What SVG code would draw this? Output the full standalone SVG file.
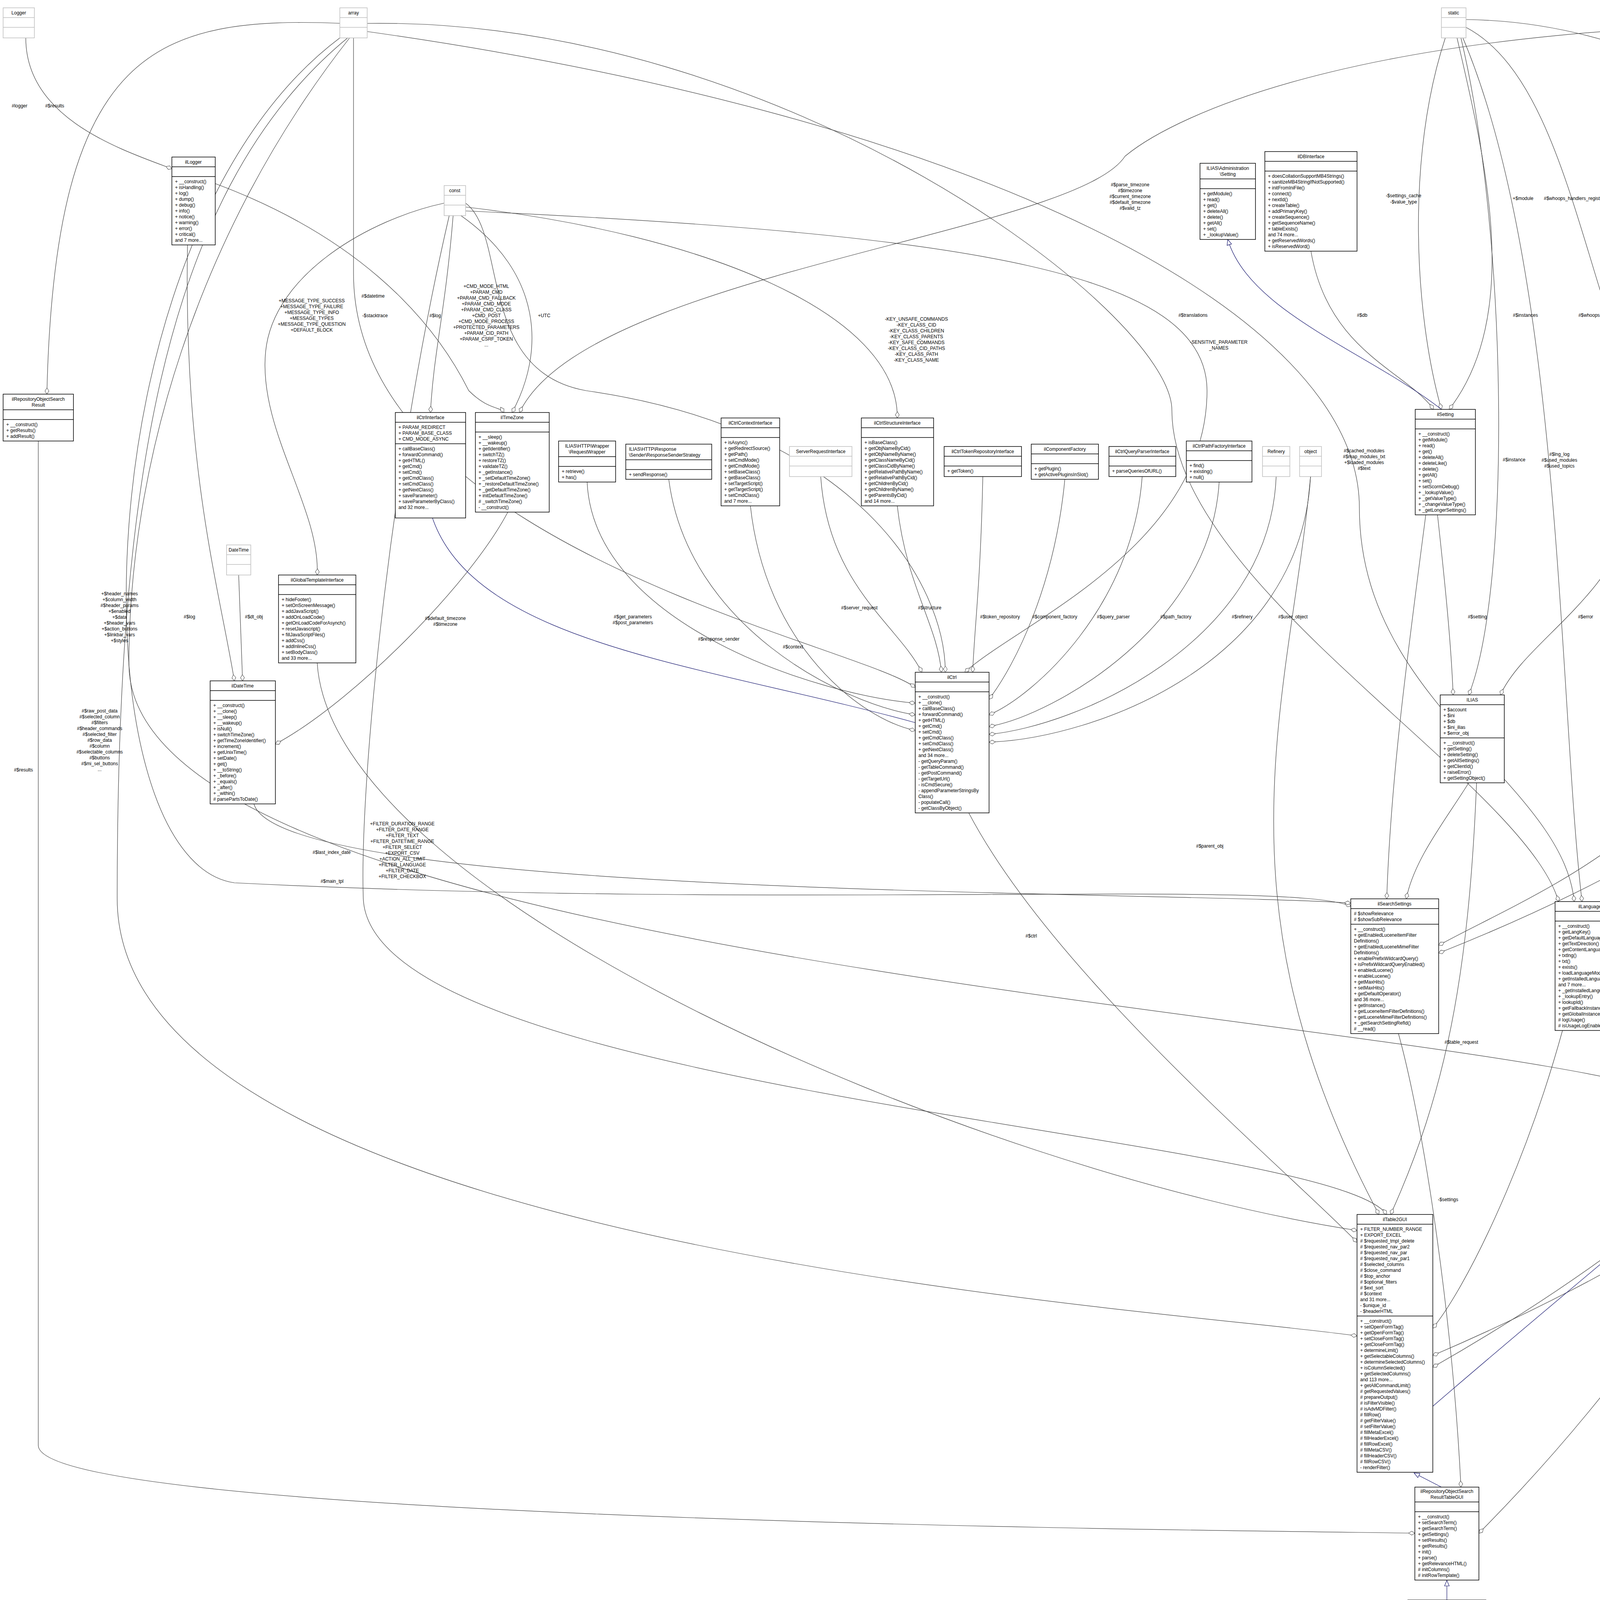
<svg xmlns="http://www.w3.org/2000/svg" width="6131" height="4192" viewBox="0 0 6131 4192">
<style>
text{font-family:"Liberation Sans",Arial,sans-serif;font-size:12px;fill:#000}
.c{text-anchor:middle}
.b{fill:#fff;stroke:#000;stroke-width:1.5}
.g{fill:#fff;stroke:#bfbfbf;stroke-width:1.5}
.s{fill:none;stroke:#000;stroke-width:1.5}
.sg{fill:none;stroke:#bfbfbf;stroke-width:1.5}
.e{fill:none;stroke:#404040;stroke-width:1.2;marker-end:url(#dia)}
.i{fill:none;stroke:#191970;stroke-width:1.2;marker-end:url(#tri)}
</style>
<defs>
<marker id="dia" markerUnits="userSpaceOnUse" markerWidth="18" markerHeight="12" refX="17" refY="6" orient="auto"><path d="M1,6 L9,1 L17,6 L9,11 z" fill="#fff" stroke="#404040" stroke-width="1"/></marker>
<marker id="tri" markerUnits="userSpaceOnUse" markerWidth="16" markerHeight="14" refX="15" refY="7" orient="auto"><path d="M1,1 L15,7 L1,13 z" fill="#fff" stroke="#191970" stroke-width="1.2"/></marker>
</defs>
<rect width="6131" height="4192" fill="#fff"/>
<g id="connectors">
<path class="e" d="M66,97 C66,300 300,380 440,432"/>
<path class="e" d="M880,60 C400,40 140,120 120,1009"/>
<path class="e" d="M890,97 C400,500 300,1300 300,2300 C300,3200 3000,3350 3474,3420"/>
<path class="e" d="M895,97 C500,600 330,1200 330,1700 C330,2500 4000,2600 4380,2840"/>
<path class="e" d="M870,97 C200,600 190,2200 600,2260 C2000,2330 3300,2250 3458,2320"/>
<path class="e" d="M905,97 L905,700 C905,1400 2200,1650 2343,1760"/>
<path class="e" d="M930,60 C2000,40 3000,800 3000,1050 C3000,1500 3900,2000 3990,2308"/>
<path class="e" d="M935,80 C2500,300 3480,800 3480,1300 C3480,1800 4000,2000 4030,2308"/>
<path class="e" d="M1160,552 C1140,800 1110,900 1102,1056"/>
<path class="e" d="M1180,552 C1390,700 1395,900 1311,1056"/>
<path class="e" d="M1137,520 C950,560 700,700 680,900 C660,1100 820,1300 812,1472"/>
<path class="e" d="M1192,520 C1300,600 1220,950 1500,1000 C2200,1100 2420,1500 2420,1721"/>
<path class="e" d="M1192,530 C1800,600 2300,800 2297,1070"/>
<path class="e" d="M1150,552 C1000,1200 920,2000 930,2300 C950,2800 3400,2900 3550,3109"/>
<path class="e" d="M1192,540 C2500,600 3090,700 3090,1000 C3090,1400 2600,1600 2470,1721"/>
<path class="e" d="M480,627 C470,1200 560,1500 600,1743"/>
<path class="e" d="M551,470 C900,600 1100,800 1200,1000 C1250,1050 1280,1040 1290,1056"/>
<path class="e" d="M611,1472 L621,1743"/>
<path class="e" d="M1300,1311 C1200,1500 900,1800 705,1905"/>
<path class="e" d="M4850,60 C3500,40 3000,300 2880,400 C2750,600 1500,700 1330,1056"/>
<path class="e" d="M1503,1234 C1520,1600 2100,1780 2343,1800"/>
<path class="e" d="M1712,1227 C1760,1600 2150,1800 2343,1830"/>
<path class="e" d="M1921,1295 C1960,1650 2200,1840 2343,1870"/>
<path class="e" d="M2101,1220 C2120,1500 2300,1600 2360,1721"/>
<path class="e" d="M2297,1295 C2320,1500 2400,1600 2410,1721"/>
<path class="e" d="M2516,1220 C2510,1500 2495,1600 2490,1721"/>
<path class="e" d="M2726,1227 C2700,1500 2600,1700 2532,1790"/>
<path class="e" d="M2924,1220 C2900,1550 2650,1780 2532,1830"/>
<path class="e" d="M3121,1234 C3100,1600 2700,1830 2532,1860"/>
<path class="e" d="M3267,1220 C3250,1650 2750,1860 2532,1880"/>
<path class="e" d="M3355,1220 C3330,1700 2800,1890 2532,1900"/>
<path class="i" d="M2343,1850 C1800,1700 1200,1650 1102,1310"/>
<path class="e" d="M2480,2081 C2700,2500 3300,3000 3474,3180"/>
<path class="e" d="M812,1697 C850,2300 2500,3000 3474,3150"/>
<path class="e" d="M650,2058 C720,2300 3000,2280 3458,2312"/>
<path class="e" d="M3680,1318 C3700,1500 3715,1650 3720,1779"/>
<path class="e" d="M3650,1318 C3600,1700 3560,2000 3550,2301"/>
<path class="e" d="M4180,1333 C4100,1550 3900,1650 3841,1779"/>
<path class="e" d="M3760,2004 C3700,2100 3620,2200 3600,2301"/>
<path class="e" d="M3730,97 C3800,400 3900,800 3710,1048"/>
<path class="e" d="M3700,97 C3600,400 3620,800 3690,1048"/>
<path class="e" d="M3753,70 C4000,200 4050,700 4200,1033"/>
<path class="e" d="M3740,97 C3860,600 3870,1500 3760,1779"/>
<path class="e" d="M3745,97 C4000,700 3990,1800 4050,2308"/>
<path class="e" d="M3356,643 C3400,900 3600,950 3670,1048"/>
<path class="i" d="M3690,1048 C3500,900 3200,800 3143,613"/>
<path class="e" d="M4191,553 C4150,800 4220,900 4240,1033"/>
<path class="i" d="M4160,1033 C4120,800 4200,760 4262,690"/>
<path class="i" d="M4175,1033 C4140,820 4210,770 4262,705"/>
<path class="e" d="M4721,553 C4500,700 4350,800 4300,1033"/>
<path class="e" d="M4860,97 C4600,300 4450,600 4280,1033"/>
<path class="e" d="M4900,97 C4900,250 5100,300 5180,410"/>
<path class="e" d="M5745,97 C5600,200 5300,250 5240,410"/>
<path class="e" d="M4740,477 C4800,300 5000,350 5160,410"/>
<path class="i" d="M5216,410 L5225,310"/>
<path class="e" d="M5216,740 C5200,800 5150,850 5128,919"/>
<path class="e" d="M3753,50 C4500,60 5000,700 5040,919"/>
<path class="e" d="M4910,97 C5300,300 5450,700 5232,1000"/>
<path class="e" d="M5745,97 C5700,500 5400,900 5232,1050"/>
<path class="e" d="M5100,1444 C5000,1500 4850,1560 4770,1600"/>
<path class="e" d="M4668,1785 C4600,2000 4300,2200 4160,2330"/>
<path class="e" d="M4900,97 C4700,500 4540,900 4520,1300 C4500,1800 4200,2100 4110,2308"/>
<path class="e" d="M4870,97 C4500,800 4400,1300 4410,1700 C4420,2100 3900,2300 3683,2420"/>
<path class="e" d="M4740,553 C4720,1200 4700,1900 4160,2450"/>
<path class="e" d="M4160,2520 C4250,2650 4330,2780 4380,2840"/>
<path class="e" d="M4000,2638 C3900,3000 3750,3300 3668,3400"/>
<path class="e" d="M3580,2646 C3650,2900 3720,3400 3740,3807"/>
<path class="e" d="M3780,2004 C3760,2500 3700,2800 3560,3109"/>
<path class="e" d="M5760,97 C5800,1000 5700,2200 4532,2880"/>
<path class="e" d="M5770,97 C5800,1200 5700,2600 3668,3470"/>
<path class="e" d="M5750,97 C5500,800 5300,1800 3683,2440"/>
<path class="e" d="M4745,553 C4800,1200 5000,2300 4532,2860"/>
<path class="e" d="M4751,520 C5500,900 5600,2400 3668,3500"/>
<path class="e" d="M4900,97 C5200,600 5200,2500 3786,3925"/>
<path class="e" d="M3355,1220 C3300,1800 3100,2300 3530,3109"/>
<path class="e" d="M98,1129 L98,3700 C98,3900 3400,3920 3622,3925"/>
<path class="i" d="M3704,4096 L3704,4046"/>
<path class="i" d="M3690,3807 L3620,3771"/>
<path class="i" d="M3668,3600 C3900,3400 4200,3150 4380,3000"/>
</g>
<g id="labels">
<text x="50" y="275" class="c">#logger</text>
<text x="140" y="275" class="c">#$results</text>
<text x="60" y="1975" class="c">#$results</text>
<text class="c" y="1524"><tspan x="306">+$header_names</tspan><tspan x="306" dy="15">+$column_width</tspan><tspan x="306" dy="15">#$header_params</tspan><tspan x="306" dy="15">+$enabled</tspan><tspan x="306" dy="15">+$data</tspan><tspan x="306" dy="15">+$header_vars</tspan><tspan x="306" dy="15">+$action_buttons</tspan><tspan x="306" dy="15">+$linkbar_vars</tspan><tspan x="306" dy="15">+$styles</tspan></text>
<text class="c" y="1824"><tspan x="255">#$raw_post_data</tspan><tspan x="255" dy="15">#$selected_column</tspan><tspan x="255" dy="15">#$filters</tspan><tspan x="255" dy="15">#$header_commands</tspan><tspan x="255" dy="15">#$selected_filter</tspan><tspan x="255" dy="15">#$row_data</tspan><tspan x="255" dy="15">#$column</tspan><tspan x="255" dy="15">#$selectable_columns</tspan><tspan x="255" dy="15">#$buttons</tspan><tspan x="255" dy="15">#$mi_sel_buttons</tspan><tspan x="255" dy="15">...</tspan></text>
<text x="485" y="1583" class="c">#$log</text>
<text x="650" y="1583" class="c">#$dt_obj</text>
<text x="849" y="2186" class="c">#$last_index_date</text>
<text x="850" y="2260" class="c">#$main_tpl</text>
<text class="c" y="2113"><tspan x="1030">+FILTER_DURATION_RANGE</tspan><tspan x="1030" dy="15">+FILTER_DATE_RANGE</tspan><tspan x="1030" dy="15">+FILTER_TEXT</tspan><tspan x="1030" dy="15">+FILTER_DATETIME_RANGE</tspan><tspan x="1030" dy="15">+FILTER_SELECT</tspan><tspan x="1030" dy="15">+EXPORT_CSV</tspan><tspan x="1030" dy="15">+ACTION_ALL_LIMIT</tspan><tspan x="1030" dy="15">+FILTER_LANGUAGE</tspan><tspan x="1030" dy="15">+FILTER_DATE</tspan><tspan x="1030" dy="15">+FILTER_CHECKBOX</tspan></text>
<text class="c" y="774"><tspan x="798">+MESSAGE_TYPE_SUCCESS</tspan><tspan x="798" dy="15">+MESSAGE_TYPE_FAILURE</tspan><tspan x="798" dy="15">+MESSAGE_TYPE_INFO</tspan><tspan x="798" dy="15">+MESSAGE_TYPES</tspan><tspan x="798" dy="15">+MESSAGE_TYPE_QUESTION</tspan><tspan x="798" dy="15">+DEFAULT_BLOCK</tspan></text>
<text x="960" y="812" class="c">-$stacktrace</text>
<text x="1114" y="812" class="c">#$log</text>
<text class="c" y="737"><tspan x="1245">+CMD_MODE_HTML</tspan><tspan x="1245" dy="15">+PARAM_CMD</tspan><tspan x="1245" dy="15">+PARAM_CMD_FALLBACK</tspan><tspan x="1245" dy="15">+PARAM_CMD_MODE</tspan><tspan x="1245" dy="15">+PARAM_CMD_CLASS</tspan><tspan x="1245" dy="15">+CMD_POST</tspan><tspan x="1245" dy="15">+CMD_MODE_PROCESS</tspan><tspan x="1245" dy="15">+PROTECTED_PARAMETERS</tspan><tspan x="1245" dy="15">+PARAM_CID_PATH</tspan><tspan x="1245" dy="15">+PARAM_CSRF_TOKEN</tspan><tspan x="1245" dy="15">...</tspan></text>
<text x="1393" y="812" class="c">+UTC</text>
<text x="955" y="762" class="c">#$datetime</text>
<text class="c" y="1587"><tspan x="1140">#$default_timezone</tspan><tspan x="1140" dy="15">#$timezone</tspan></text>
<text class="c" y="477"><tspan x="2893">#$parse_timezone</tspan><tspan x="2893" dy="15">#$timezone</tspan><tspan x="2893" dy="15">#$current_timezone</tspan><tspan x="2893" dy="15">#$default_timezone</tspan><tspan x="2893" dy="15">#$valid_tz</tspan></text>
<text class="c" y="821"><tspan x="2346">-KEY_UNSAFE_COMMANDS</tspan><tspan x="2346" dy="15">-KEY_CLASS_CID</tspan><tspan x="2346" dy="15">-KEY_CLASS_CHILDREN</tspan><tspan x="2346" dy="15">-KEY_CLASS_PARENTS</tspan><tspan x="2346" dy="15">-KEY_SAFE_COMMANDS</tspan><tspan x="2346" dy="15">-KEY_CLASS_CID_PATHS</tspan><tspan x="2346" dy="15">-KEY_CLASS_PATH</tspan><tspan x="2346" dy="15">-KEY_CLASS_NAME</tspan></text>
<text class="c" y="880"><tspan x="3120">-SENSITIVE_PARAMETER</tspan><tspan x="3120" dy="15">_NAMES</tspan></text>
<text class="c" y="1583"><tspan x="1620">#$get_parameters</tspan><tspan x="1620" dy="15">#$post_parameters</tspan></text>
<text x="1840" y="1640" class="c">#$response_sender</text>
<text x="2030" y="1660" class="c">#$context</text>
<text x="2200" y="1560" class="c">#$server_request</text>
<text x="2380" y="1560" class="c">#$structure</text>
<text x="2560" y="1583" class="c">#$token_repository</text>
<text x="2700" y="1583" class="c">#$component_factory</text>
<text x="2850" y="1583" class="c">#$query_parser</text>
<text x="3010" y="1583" class="c">#$path_factory</text>
<text x="3180" y="1583" class="c">#$refinery</text>
<text x="3310" y="1583" class="c">#$user_object</text>
<text x="2640" y="2400" class="c">#$ctrl</text>
<text x="3097" y="2170" class="c">#$parent_obj</text>
<text class="c" y="505"><tspan x="3593">-$settings_cache</tspan><tspan x="3593" dy="16">-$value_type</tspan></text>
<text x="3899" y="512" class="c">+$module</text>
<text x="4036" y="512" class="c">#$whoops_handlers_registered</text>
<text x="3054" y="811" class="c">#$translations</text>
<text x="3487" y="811" class="c">#$db</text>
<text x="3905" y="811" class="c">#$instances</text>
<text x="4068" y="811" class="c">#$whoops</text>
<text x="4290" y="811" class="c">#$cache_disabled</text>
<text class="c" y="1158"><tspan x="3492">#$cached_modules</tspan><tspan x="3492" dy="15">#$map_modules_txt</tspan><tspan x="3492" dy="15">+$loaded_modules</tspan><tspan x="3492" dy="15">#$text</tspan></text>
<text x="3876" y="1181" class="c">#$instance</text>
<text class="c" y="1167"><tspan x="3992">#$lng_log</tspan><tspan x="3992" dy="15">#$used_modules</tspan><tspan x="3992" dy="15">#$used_topics</tspan></text>
<text x="3782" y="1583" class="c">#$setting</text>
<text x="4059" y="1583" class="c">#$error</text>
<text class="c" y="1488"><tspan x="4411">#$show_limited_user</tspan><tspan x="4411" dy="15">#$lucene_mime_filter</tspan><tspan x="4411" dy="15">_enabled</tspan><tspan x="4411" dy="15">#$date_filter</tspan><tspan x="4411" dy="15">#$user_search</tspan><tspan x="4411" dy="15">#$show_inactiv_user</tspan><tspan x="4411" dy="15">#$lucene</tspan><tspan x="4411" dy="15">#$lucene_offline</tspan><tspan x="4411" dy="15">_filter</tspan><tspan x="4411" dy="15">#$prefix_wildcard</tspan><tspan x="4411" dy="15">#$hide_adv_search</tspan><tspan x="4411" dy="15">#$lucene_item_filter</tspan><tspan x="4411" dy="15">_enabled</tspan><tspan x="4411" dy="15">...</tspan></text>
<text class="c" y="1115"><tspan x="4548">+$lang_name</tspan><tspan x="4548" dy="15">+$lang_user</tspan><tspan x="4548" dy="15">+$lang_path</tspan><tspan x="4548" dy="15">#$cust_lang_path</tspan><tspan x="4548" dy="15">+$separator</tspan><tspan x="4548" dy="15">+$comment_separator</tspan><tspan x="4548" dy="15">+$lang_key</tspan><tspan x="4548" dy="15">+$lang_default</tspan></text>
<text x="3741" y="2672" class="c">#$table_request</text>
<text x="3707" y="3075" class="c">-$settings</text>
<text x="4282" y="2671" class="c">#$lng</text>
<text x="4704" y="1622" class="c">#$usage_log_enabled</text>
<text x="4888" y="1583" class="c">#$global_cache</text>
<text x="5061" y="810" class="c">#$active</text>
<text x="5232" y="810" class="c">#$global_cache</text>
<text x="5377" y="810" class="c">#$language_key</text>
<text class="c" y="500"><tspan x="4958">#$type</tspan><tspan x="4958" dy="15">#$unique_service</tspan><tspan x="4958" dy="15">#$active_components</tspan><tspan x="4958" dy="15">#$available_components</tspan><tspan x="4958" dy="15">#$settings</tspan><tspan x="4958" dy="15">#$instances</tspan><tspan x="4958" dy="15">#$available_types</tspan><tspan x="4958" dy="15">#$active_cache</tspan></text>
<text x="4516" y="371" class="c">#$message</text>
<text x="4672" y="371" class="c">#$component</text>
<text class="c" y="262"><tspan x="5180">#$component</tspan><tspan x="5180" dy="15">#$valid_key_hash</tspan><tspan x="5180" dy="15">#$service_id</tspan></text>
<text class="c" y="180"><tspan x="5200">#$current_time</tspan><tspan x="5200" dy="15">#$service_type</tspan></text>
<text class="c" y="275"><tspan x="4935">#$active</tspan><tspan x="4935" dy="15">#$installable</tspan></text>
<text x="5454" y="371" class="c">#$service_type</text>
<text class="c" y="480"><tspan x="5349">+$MESSAGE</tspan><tspan x="5349" dy="15">+$FATAL</tspan><tspan x="5349" dy="15">+$WARNING</tspan></text>
<text class="c" y="712"><tspan x="4325">+ENV_FILE</tspan><tspan x="4325" dy="15">+$client_id</tspan></text>
<text x="4352" y="802" class="c">#$DEBUG_ENV</text>
<text class="c" y="625"><tspan x="4810">+COMP_PLUGINS</tspan><tspan x="4810" dy="15">+COMP_ILCTRL</tspan><tspan x="4810" dy="15">+TYPE_APC</tspan><tspan x="4810" dy="15">+COMP_OBJ_DEF</tspan><tspan x="4810" dy="15">+TYPE_STATIC</tspan><tspan x="4810" dy="15">+COMP_GLOBAL_SCREEN</tspan><tspan x="4810" dy="15">+COMP_TEMPLATE</tspan><tspan x="4810" dy="15">+ACTIVE</tspan><tspan x="4810" dy="15">+MSG</tspan><tspan x="4810" dy="15">+COMP_TPL_VARIABLES</tspan></text>
<text class="c" y="1173"><tspan x="5376">#$auto_complete_length</tspan><tspan x="5376" dy="15">#$max_hits</tspan><tspan x="5376" dy="15">#$hide_adv_search</tspan><tspan x="5376" dy="15">#$default_operator</tspan><tspan x="5376" dy="15">#$fragmentSize</tspan><tspan x="5376" dy="15">#$fragmentCount</tspan></text>
<text class="c" y="1623"><tspan x="5787">#$offset</tspan><tspan x="5787" dy="15">#$column_count</tspan><tspan x="5787" dy="15">#$limit</tspan><tspan x="5787" dy="15">#$max_count</tspan></text>
<text class="c" y="2033"><tspan x="5787">#$filter_cols</tspan><tspan x="5787" dy="15">#$export_mode</tspan></text>
<text class="c" y="1700"><tspan x="4926">#$help_icon_alt</tspan><tspan x="4926" dy="15">#$footer_next</tspan><tspan x="4926" dy="15">#$select_all_checkbox</tspan><tspan x="4926" dy="15">#$form_action</tspan><tspan x="4926" dy="15">#$help_page</tspan><tspan x="4926" dy="15">#$help_icon</tspan></text>
<text class="c" y="1720"><tspan x="5572">#$description</tspan><tspan x="5572" dy="15">#$reset_cmd</tspan><tspan x="5572" dy="15">#$filter_cmd</tspan><tspan x="5572" dy="15">#$css_row</tspan><tspan x="5572" dy="15">#$row_template</tspan><tspan x="5572" dy="15">...</tspan></text>
<text x="5083" y="2190" class="c">#$search_term</text>
</g>
<g id="Logger"><rect class="g" x="8" y="20" width="80" height="77"/><path class="sg" d="M8,45h80M8,70h80"/><text class="c" x="48" y="37">Logger</text></g>
<g id="array"><rect class="g" x="870" y="20" width="70" height="77"/><path class="sg" d="M870,45h70M870,70h70"/><text class="c" x="905" y="37">array</text></g>
<g id="static"><rect class="g" x="3690" y="20" width="63" height="77"/><path class="sg" d="M3690,45h63M3690,70h63"/><text class="c" x="3721" y="37">static</text></g>
<g id="string"><rect class="g" x="4850" y="20" width="70" height="77"/><path class="sg" d="M4850,45h70M4850,70h70"/><text class="c" x="4885" y="37">string</text></g>
<g id="int"><rect class="g" x="5720" y="20" width="50" height="77"/><path class="sg" d="M5720,45h50M5720,70h50"/><text class="c" x="5745" y="37">int</text></g>
<g id="bool"><rect class="g" x="4692" y="477" width="59" height="77"/><path class="sg" d="M4692,502h59M4692,527h59"/><text class="c" x="4721" y="494">bool</text></g>
<g id="const"><rect class="g" x="1137" y="475" width="55" height="77"/><path class="sg" d="M1137,500h55M1137,525h55"/><text class="c" x="1164" y="492">const</text></g>
<g id="DateTime"><rect class="g" x="580" y="1395" width="62" height="77"/><path class="sg" d="M580,1420h62M580,1445h62"/><text class="c" x="611" y="1412">DateTime</text></g>
<g id="RunInterface"><rect class="g" x="4142" y="476" width="99" height="77"/><path class="sg" d="M4142,501h99M4142,526h99"/><text class="c" x="4191" y="493">RunInterface</text></g>
<g id="ServerRequestInterface"><rect class="g" x="2021" y="1143" width="160" height="77"/><path class="sg" d="M2021,1168h160M2021,1193h160"/><text class="c" x="2101" y="1160">ServerRequestInterface</text></g>
<g id="Refinery"><rect class="g" x="3232" y="1143" width="70" height="77"/><path class="sg" d="M3232,1168h70M3232,1193h70"/><text class="c" x="3267" y="1160">Refinery</text></g>
<g id="object"><rect class="g" x="3327" y="1143" width="56" height="77"/><path class="sg" d="M3327,1168h56M3327,1193h56"/><text class="c" x="3355" y="1160">object</text></g>
<g id="ilRepositoryObjectSearchResult"><rect class="b" x="8" y="1009" width="180" height="120"/><path class="s" d="M8,1049h180M8,1074h180"/><text class="c" x="98" y="1026">ilRepositoryObjectSearch</text><text class="c" x="98" y="1041">Result</text><text x="16" y="1091"><tspan x="16">+ __construct()</tspan><tspan x="16" dy="15">+ getResults()</tspan><tspan x="16" dy="15">+ addResult()</tspan></text></g>
<g id="ilLogger"><rect class="b" x="440" y="402" width="111" height="225"/><path class="s" d="M440,427h111M440,452h111"/><text class="c" x="495" y="419">ilLogger</text><text y="469"><tspan x="448">+ __construct()</tspan><tspan x="448" dy="15">+ isHandling()</tspan><tspan x="448" dy="15">+ log()</tspan><tspan x="448" dy="15">+ dump()</tspan><tspan x="448" dy="15">+ debug()</tspan><tspan x="448" dy="15">+ info()</tspan><tspan x="448" dy="15">+ notice()</tspan><tspan x="448" dy="15">+ warning()</tspan><tspan x="448" dy="15">+ error()</tspan><tspan x="448" dy="15">+ critical()</tspan><tspan x="448" dy="15">and 7 more...</tspan></text></g>
<g id="ilCtrlInterface"><rect class="b" x="1012" y="1056" width="180" height="270"/><path class="s" d="M1012,1081h180M1012,1136h180"/><text class="c" x="1102" y="1073">ilCtrlInterface</text><text y="1098"><tspan x="1020">+ PARAM_REDIRECT</tspan><tspan x="1020" dy="15">+ PARAM_BASE_CLASS</tspan><tspan x="1020" dy="15">+ CMD_MODE_ASYNC</tspan></text><text y="1153"><tspan x="1020">+ callBaseClass()</tspan><tspan x="1020" dy="15">+ forwardCommand()</tspan><tspan x="1020" dy="15">+ getHTML()</tspan><tspan x="1020" dy="15">+ getCmd()</tspan><tspan x="1020" dy="15">+ setCmd()</tspan><tspan x="1020" dy="15">+ getCmdClass()</tspan><tspan x="1020" dy="15">+ setCmdClass()</tspan><tspan x="1020" dy="15">+ getNextClass()</tspan><tspan x="1020" dy="15">+ saveParameter()</tspan><tspan x="1020" dy="15">+ saveParameterByClass()</tspan><tspan x="1020" dy="15">and 32 more...</tspan></text></g>
<g id="ilTimeZone"><rect class="b" x="1217" y="1056" width="189" height="255"/><path class="s" d="M1217,1081h189M1217,1106h189"/><text class="c" x="1311" y="1073">ilTimeZone</text><text y="1123"><tspan x="1225">+ __sleep()</tspan><tspan x="1225" dy="15">+ __wakeup()</tspan><tspan x="1225" dy="15">+ getIdentifier()</tspan><tspan x="1225" dy="15">+ switchTZ()</tspan><tspan x="1225" dy="15">+ restoreTZ()</tspan><tspan x="1225" dy="15">+ validateTZ()</tspan><tspan x="1225" dy="15">+ _getInstance()</tspan><tspan x="1225" dy="15">+ _setDefaultTimeZone()</tspan><tspan x="1225" dy="15">+ _restoreDefaultTimeZone()</tspan><tspan x="1225" dy="15">+ _getDefaultTimeZone()</tspan><tspan x="1225" dy="15">+ initDefaultTimeZone()</tspan><tspan x="1225" dy="15"># _switchTimeZone()</tspan><tspan x="1225" dy="15">- __construct()</tspan></text></g>
<g id="RequestWrapper"><rect class="b" x="1430" y="1129" width="146" height="105"/><path class="s" d="M1430,1169h146M1430,1194h146"/><text class="c" x="1503" y="1146">ILIAS\HTTP\Wrapper</text><text class="c" x="1503" y="1161">\RequestWrapper</text><text y="1211"><tspan x="1438">+ retrieve()</tspan><tspan x="1438" dy="15">+ has()</tspan></text></g>
<g id="ResponseSenderStrategy"><rect class="b" x="1602" y="1137" width="220" height="90"/><path class="s" d="M1602,1177h220M1602,1202h220"/><text x="1610" y="1154">ILIAS\HTTP\Response</text><text x="1610" y="1169">\Sender\ResponseSenderStrategy</text><text x="1610" y="1219">+ sendResponse()</text></g>
<g id="ilCtrlContextInterface"><rect class="b" x="1846" y="1070" width="150" height="225"/><path class="s" d="M1846,1095h150M1846,1120h150"/><text class="c" x="1921" y="1087">ilCtrlContextInterface</text><text y="1137"><tspan x="1854">+ isAsync()</tspan><tspan x="1854" dy="15">+ getRedirectSource()</tspan><tspan x="1854" dy="15">+ getPath()</tspan><tspan x="1854" dy="15">+ setCmdMode()</tspan><tspan x="1854" dy="15">+ getCmdMode()</tspan><tspan x="1854" dy="15">+ setBaseClass()</tspan><tspan x="1854" dy="15">+ getBaseClass()</tspan><tspan x="1854" dy="15">+ setTargetScript()</tspan><tspan x="1854" dy="15">+ getTargetScript()</tspan><tspan x="1854" dy="15">+ setCmdClass()</tspan><tspan x="1854" dy="15">and 7 more...</tspan></text></g>
<g id="ilCtrlStructureInterface"><rect class="b" x="2205" y="1070" width="185" height="225"/><path class="s" d="M2205,1095h185M2205,1120h185"/><text class="c" x="2297" y="1087">ilCtrlStructureInterface</text><text y="1137"><tspan x="2213">+ isBaseClass()</tspan><tspan x="2213" dy="15">+ getObjNameByCid()</tspan><tspan x="2213" dy="15">+ getObjNameByName()</tspan><tspan x="2213" dy="15">+ getClassNameByCid()</tspan><tspan x="2213" dy="15">+ getClassCidByName()</tspan><tspan x="2213" dy="15">+ getRelativePathByName()</tspan><tspan x="2213" dy="15">+ getRelativePathByCid()</tspan><tspan x="2213" dy="15">+ getChildrenByCid()</tspan><tspan x="2213" dy="15">+ getChildrenByName()</tspan><tspan x="2213" dy="15">+ getParentsByCid()</tspan><tspan x="2213" dy="15">and 14 more...</tspan></text></g>
<g id="ilCtrlTokenRepositoryInterface"><rect class="b" x="2417" y="1143" width="198" height="77"/><path class="s" d="M2417,1168h198M2417,1193h198"/><text class="c" x="2516" y="1160">ilCtrlTokenRepositoryInterface</text><text x="2425" y="1210">+ getToken()</text></g>
<g id="ilComponentFactory"><rect class="b" x="2640" y="1137" width="172" height="90"/><path class="s" d="M2640,1162h172M2640,1187h172"/><text class="c" x="2726" y="1154">ilComponentFactory</text><text y="1204"><tspan x="2648">+ getPlugin()</tspan><tspan x="2648" dy="15">+ getActivePluginsInSlot()</tspan></text></g>
<g id="ilCtrlQueryParserInterface"><rect class="b" x="2839" y="1143" width="171" height="77"/><path class="s" d="M2839,1168h171M2839,1193h171"/><text class="c" x="2924" y="1160">ilCtrlQueryParserInterface</text><text x="2847" y="1210">+ parseQueriesOfURL()</text></g>
<g id="ilCtrlPathFactoryInterface"><rect class="b" x="3037" y="1129" width="168" height="105"/><path class="s" d="M3037,1154h168M3037,1179h168"/><text class="c" x="3121" y="1146">ilCtrlPathFactoryInterface</text><text y="1196"><tspan x="3045">+ find()</tspan><tspan x="3045" dy="15">+ existing()</tspan><tspan x="3045" dy="15">+ null()</tspan></text></g>
<g id="AdministrationSetting"><rect class="b" x="3072" y="418" width="142" height="195"/><path class="s" d="M3072,458h142M3072,483h142"/><text class="c" x="3143" y="435">ILIAS\Administration</text><text class="c" x="3143" y="450">\Setting</text><text y="500"><tspan x="3080">+ getModule()</tspan><tspan x="3080" dy="15">+ read()</tspan><tspan x="3080" dy="15">+ get()</tspan><tspan x="3080" dy="15">+ deleteAll()</tspan><tspan x="3080" dy="15">+ delete()</tspan><tspan x="3080" dy="15">+ getAll()</tspan><tspan x="3080" dy="15">+ set()</tspan><tspan x="3080" dy="15">+ _lookupValue()</tspan></text></g>
<g id="ilDBInterface"><rect class="b" x="3238" y="388" width="236" height="255"/><path class="s" d="M3238,413h236M3238,438h236"/><text class="c" x="3356" y="405">ilDBInterface</text><text y="455"><tspan x="3246">+ doesCollationSupportMB4Strings()</tspan><tspan x="3246" dy="15">+ sanitizeMB4StringIfNotSupported()</tspan><tspan x="3246" dy="15">+ initFromIniFile()</tspan><tspan x="3246" dy="15">+ connect()</tspan><tspan x="3246" dy="15">+ nextId()</tspan><tspan x="3246" dy="15">+ createTable()</tspan><tspan x="3246" dy="15">+ addPrimaryKey()</tspan><tspan x="3246" dy="15">+ createSequence()</tspan><tspan x="3246" dy="15">+ getSequenceName()</tspan><tspan x="3246" dy="15">+ tableExists()</tspan><tspan x="3246" dy="15">and 74 more...</tspan><tspan x="3246" dy="15">+ getReservedWords()</tspan><tspan x="3246" dy="15">+ isReservedWord()</tspan></text></g>
<g id="PEAR"><rect class="b" x="4262" y="313" width="195" height="390"/><path class="s" d="M4262,338h195M4262,438h195"/><text class="c" x="4359" y="330">PEAR</text><text y="355"><tspan x="4270">+ $_debug</tspan><tspan x="4270" dy="15">+ $_default_error_mode</tspan><tspan x="4270" dy="15">+ $_default_error_options</tspan><tspan x="4270" dy="15">+ $_default_error_handler</tspan><tspan x="4270" dy="15">+ $_error_class</tspan><tspan x="4270" dy="15">+ $_expected_errors</tspan></text><text y="455"><tspan x="4270">+ __construct()</tspan><tspan x="4270" dy="15">+ _PEAR()</tspan><tspan x="4270" dy="15">+ registerShutdownFunc()</tspan><tspan x="4270" dy="15">+ isError()</tspan><tspan x="4270" dy="15">+ expectError()</tspan><tspan x="4270" dy="15">+ popExpect()</tspan><tspan x="4270" dy="15">+ _checkDelExpect()</tspan><tspan x="4270" dy="15">+ delExpect()</tspan><tspan x="4270" dy="15">+ raiseError()</tspan><tspan x="4270" dy="15">+ throwError()</tspan><tspan x="4270" dy="15">+ staticPushErrorHandling()</tspan><tspan x="4270" dy="15">+ staticPopErrorHandling()</tspan><tspan x="4270" dy="15">+ pushErrorHandling()</tspan><tspan x="4270" dy="15">+ popErrorHandling()</tspan><tspan x="4270" dy="15">+ loadExtension()</tspan><tspan x="4270" dy="15">+ getStaticProperty()</tspan><tspan x="4270" dy="15">+ setErrorHandling()</tspan></text></g>
<g id="ilSetting"><rect class="b" x="3623" y="1048" width="154" height="270"/><path class="s" d="M3623,1073h154M3623,1098h154"/><text class="c" x="3700" y="1065">ilSetting</text><text y="1115"><tspan x="3631">+ __construct()</tspan><tspan x="3631" dy="15">+ getModule()</tspan><tspan x="3631" dy="15">+ read()</tspan><tspan x="3631" dy="15">+ get()</tspan><tspan x="3631" dy="15">+ deleteAll()</tspan><tspan x="3631" dy="15">+ deleteLike()</tspan><tspan x="3631" dy="15">+ delete()</tspan><tspan x="3631" dy="15">+ getAll()</tspan><tspan x="3631" dy="15">+ set()</tspan><tspan x="3631" dy="15">+ setScormDebug()</tspan><tspan x="3631" dy="15">+ _lookupValue()</tspan><tspan x="3631" dy="15">+ _getValueType()</tspan><tspan x="3631" dy="15">+ _changeValueType()</tspan><tspan x="3631" dy="15">+ _getLongerSettings()</tspan></text></g>
<g id="ilErrorHandling"><rect class="b" x="4117" y="1033" width="203" height="300"/><path class="s" d="M4117,1058h203M4117,1083h203"/><text class="c" x="4218" y="1050">ilErrorHandling</text><text x="4125" y="1075"># $error_obj</text><text y="1100"><tspan x="4125">+ __construct()</tspan><tspan x="4125" dy="15">+ getHandler()</tspan><tspan x="4125" dy="15">+ errorHandler()</tspan><tspan x="4125" dy="15">+ getMessage()</tspan><tspan x="4125" dy="15">+ setMessage()</tspan><tspan x="4125" dy="15">+ appendMessage()</tspan><tspan x="4125" dy="15">+ handlePreWhoops()</tspan><tspan x="4125" dy="15"># initWhoopsHandlers()</tspan><tspan x="4125" dy="15"># getIlRuntime()</tspan><tspan x="4125" dy="15"># getWhoops()</tspan><tspan x="4125" dy="15"># isDevmodeActive()</tspan><tspan x="4125" dy="15"># defaultHandler()</tspan><tspan x="4125" dy="15"># devmodeHandler()</tspan><tspan x="4125" dy="15"># addEditorSupport()</tspan><tspan x="4125" dy="15"># applyEditorPathTranslations()</tspan><tspan x="4125" dy="15"># parseEditorPathTranslation()</tspan></text></g>
<g id="ilGlobalCacheServiceInterface"><rect class="b" x="5110" y="8" width="230" height="300"/><path class="s" d="M5110,33h230M5110,58h230"/><text class="c" x="5225" y="25">ilGlobalCacheServiceInterface</text><text y="75"><tspan x="5118">+ unserialize()</tspan><tspan x="5118" dy="15">+ get()</tspan><tspan x="5118" dy="15">+ getServiceId()</tspan><tspan x="5118" dy="15">+ setServiceId()</tspan><tspan x="5118" dy="15">+ getComponent()</tspan><tspan x="5118" dy="15">+ setComponent()</tspan><tspan x="5118" dy="15">+ isActive()</tspan><tspan x="5118" dy="15">+ isInstallable()</tspan><tspan x="5118" dy="15">+ exists()</tspan><tspan x="5118" dy="15">+ set()</tspan><tspan x="5118" dy="15">+ delete()</tspan><tspan x="5118" dy="15">+ flush()</tspan><tspan x="5118" dy="15">+ setValid()</tspan><tspan x="5118" dy="15">+ isValid()</tspan><tspan x="5118" dy="15">+ getInstallationFailureReason()</tspan><tspan x="5118" dy="15">+ getInfo()</tspan></text></g>
<g id="ilGlobalCacheService"><rect class="b" x="5134" y="410" width="164" height="330"/><path class="s" d="M5134,435h164M5134,460h164"/><text class="c" x="5216" y="427">ilGlobalCacheService</text><text y="477"><tspan x="5142">+ __construct()</tspan><tspan x="5142" dy="15">+ unserialize()</tspan><tspan x="5142" dy="15">+ get()</tspan><tspan x="5142" dy="15">+ set()</tspan><tspan x="5142" dy="15">+ isValid()</tspan><tspan x="5142" dy="15">+ getServiceId()</tspan><tspan x="5142" dy="15">+ setServiceId()</tspan><tspan x="5142" dy="15">+ getComponent()</tspan><tspan x="5142" dy="15">+ setComponent()</tspan><tspan x="5142" dy="15">+ isActive()</tspan><tspan x="5142" dy="15">and 11 more...</tspan><tspan x="5142" dy="15"># getActive()</tspan><tspan x="5142" dy="15"># setActive()</tspan><tspan x="5142" dy="15"># getInstallable()</tspan><tspan x="5142" dy="15"># setInstallable()</tspan><tspan x="5142" dy="15"># getMemoryLimit()</tspan><tspan x="5142" dy="15"># getMinMemory()</tspan><tspan x="5142" dy="15"># checkMemory()</tspan></text></g>
<g id="ilGlobalCache"><rect class="b" x="5025" y="919" width="207" height="525"/><path class="s" d="M5025,944h207M5025,1044h207"/><text class="c" x="5128" y="936">ilGlobalCache</text><text y="961"><tspan x="5033">+ TYPE_MEMCACHED</tspan><tspan x="5033" dy="15">+ TYPE_FALLBACK</tspan><tspan x="5033" dy="15">+ COMP_CLNG</tspan><tspan x="5033" dy="15">+ COMP_RBAC_UA</tspan><tspan x="5033" dy="15">+ COMP_EVENTS</tspan><tspan x="5033" dy="15">+ COMP_TPL_BLOCKS</tspan></text><text y="1061"><tspan x="5033">+ isActive()</tspan><tspan x="5033" dy="15">+ isValid()</tspan><tspan x="5033" dy="15">+ isInstallable()</tspan><tspan x="5033" dy="15">+ isCacheServiceInstallable()</tspan><tspan x="5033" dy="15">+ getInstallationFailureReason()</tspan><tspan x="5033" dy="15">+ exists()</tspan><tspan x="5033" dy="15">+ set()</tspan><tspan x="5033" dy="15">+ get()</tspan><tspan x="5033" dy="15">+ delete()</tspan><tspan x="5033" dy="15">+ flush()</tspan><tspan x="5033" dy="15">and 7 more...</tspan><tspan x="5033" dy="15">+ setup()</tspan><tspan x="5033" dy="15">+ getInstance()</tspan><tspan x="5033" dy="15">+ log()</tspan><tspan x="5033" dy="15">+ getAllInstallableTypes()</tspan><tspan x="5033" dy="15">+ getAllTypes()</tspan><tspan x="5033" dy="15">+ lookupServiceClassName()</tspan><tspan x="5033" dy="15">+ lookupServiceConfigName()</tspan><tspan x="5033" dy="15">+ getSettings()</tspan><tspan x="5033" dy="15">+ setSettings()</tspan><tspan x="5033" dy="15">+ getActiveComponents()</tspan><tspan x="5033" dy="15">+ setActiveComponents()</tspan><tspan x="5033" dy="15">+ getAvailableComponents()</tspan><tspan x="5033" dy="15">+ setAvailableComponents()</tspan><tspan x="5033" dy="15"># __construct()</tspan><tspan x="5033" dy="15"># generateServiceId()</tspan></text></g>
<g id="ilCachedLanguage"><rect class="b" x="4567" y="1545" width="203" height="240"/><path class="s" d="M4567,1570h203M4567,1595h203"/><text class="c" x="4668" y="1562">ilCachedLanguage</text><text y="1612"><tspan x="4575">+ isActive()</tspan><tspan x="4575" dy="15">+ writeToCache()</tspan><tspan x="4575" dy="15">+ deleteInCache()</tspan><tspan x="4575" dy="15">+ flush()</tspan><tspan x="4575" dy="15">+ setLanguageKey()</tspan><tspan x="4575" dy="15">+ isLoaded()</tspan><tspan x="4575" dy="15">+ setLoaded()</tspan><tspan x="4575" dy="15">+ getTranslations()</tspan><tspan x="4575" dy="15">+ setTranslations()</tspan><tspan x="4575" dy="15">+ getInstance()</tspan><tspan x="4575" dy="15"># __construct()</tspan><tspan x="4575" dy="15"># readFromCache()</tspan></text></g>
<g id="ILIAS"><rect class="b" x="3687" y="1779" width="164" height="225"/><path class="s" d="M3687,1804h164M3687,1889h164"/><text class="c" x="3769" y="1796">ILIAS</text><text y="1821"><tspan x="3695">+ $account</tspan><tspan x="3695" dy="15">+ $ini</tspan><tspan x="3695" dy="15">+ $db</tspan><tspan x="3695" dy="15">+ $ini_ilias</tspan><tspan x="3695" dy="15">+ $error_obj</tspan></text><text y="1906"><tspan x="3695">+ __construct()</tspan><tspan x="3695" dy="15">+ getSetting()</tspan><tspan x="3695" dy="15">+ deleteSetting()</tspan><tspan x="3695" dy="15">+ getAllSettings()</tspan><tspan x="3695" dy="15">+ getClientId()</tspan><tspan x="3695" dy="15">+ raiseError()</tspan><tspan x="3695" dy="15">+ getSettingObject()</tspan></text></g>
<g id="ilGlobalTemplateInterface"><rect class="b" x="713" y="1472" width="198" height="225"/><path class="s" d="M713,1497h198M713,1522h198"/><text class="c" x="812" y="1489">ilGlobalTemplateInterface</text><text y="1539"><tspan x="721">+ hideFooter()</tspan><tspan x="721" dy="15">+ setOnScreenMessage()</tspan><tspan x="721" dy="15">+ addJavaScript()</tspan><tspan x="721" dy="15">+ addOnLoadCode()</tspan><tspan x="721" dy="15">+ getOnLoadCodeForAsynch()</tspan><tspan x="721" dy="15">+ resetJavascript()</tspan><tspan x="721" dy="15">+ fillJavaScriptFiles()</tspan><tspan x="721" dy="15">+ addCss()</tspan><tspan x="721" dy="15">+ addInlineCss()</tspan><tspan x="721" dy="15">+ setBodyClass()</tspan><tspan x="721" dy="15">and 33 more...</tspan></text></g>
<g id="ilDateTime"><rect class="b" x="538" y="1743" width="167" height="315"/><path class="s" d="M538,1768h167M538,1793h167"/><text class="c" x="621" y="1760">ilDateTime</text><text y="1810"><tspan x="546">+ __construct()</tspan><tspan x="546" dy="15">+ __clone()</tspan><tspan x="546" dy="15">+ __sleep()</tspan><tspan x="546" dy="15">+ __wakeup()</tspan><tspan x="546" dy="15">+ isNull()</tspan><tspan x="546" dy="15">+ switchTimeZone()</tspan><tspan x="546" dy="15">+ getTimeZoneIdentifier()</tspan><tspan x="546" dy="15">+ increment()</tspan><tspan x="546" dy="15">+ getUnixTime()</tspan><tspan x="546" dy="15">+ setDate()</tspan><tspan x="546" dy="15">+ get()</tspan><tspan x="546" dy="15">+ __toString()</tspan><tspan x="546" dy="15">+ _before()</tspan><tspan x="546" dy="15">+ _equals()</tspan><tspan x="546" dy="15">+ _after()</tspan><tspan x="546" dy="15">+ _within()</tspan><tspan x="546" dy="15"># parsePartsToDate()</tspan></text></g>
<g id="ilCtrl"><rect class="b" x="2343" y="1721" width="189" height="360"/><path class="s" d="M2343,1746h189M2343,1771h189"/><text class="c" x="2437" y="1738">ilCtrl</text><text y="1788"><tspan x="2351">+ __construct()</tspan><tspan x="2351" dy="15">+ __clone()</tspan><tspan x="2351" dy="15">+ callBaseClass()</tspan><tspan x="2351" dy="15">+ forwardCommand()</tspan><tspan x="2351" dy="15">+ getHTML()</tspan><tspan x="2351" dy="15">+ getCmd()</tspan><tspan x="2351" dy="15">+ setCmd()</tspan><tspan x="2351" dy="15">+ getCmdClass()</tspan><tspan x="2351" dy="15">+ setCmdClass()</tspan><tspan x="2351" dy="15">+ getNextClass()</tspan><tspan x="2351" dy="15">and 34 more...</tspan><tspan x="2351" dy="15">- getQueryParam()</tspan><tspan x="2351" dy="15">- getTableCommand()</tspan><tspan x="2351" dy="15">- getPostCommand()</tspan><tspan x="2351" dy="15">- getTargetUrl()</tspan><tspan x="2351" dy="15">- isCmdSecure()</tspan><tspan x="2351" dy="15">- appendParameterStringsBy</tspan><tspan x="2351" dy="15">Class()</tspan><tspan x="2351" dy="15">- populateCall()</tspan><tspan x="2351" dy="15">- getClassByObject()</tspan></text></g>
<g id="ilSearchSettings"><rect class="b" x="3458" y="2301" width="225" height="345"/><path class="s" d="M3458,2326h225M3458,2366h225"/><text class="c" x="3570" y="2318">ilSearchSettings</text><text y="2343"><tspan x="3466"># $showRelevance</tspan><tspan x="3466" dy="15"># $showSubRelevance</tspan></text><text y="2383"><tspan x="3466">+ __construct()</tspan><tspan x="3466" dy="15">+ getEnabledLuceneItemFilter</tspan><tspan x="3466" dy="15">Definitions()</tspan><tspan x="3466" dy="15">+ getEnabledLuceneMimeFilter</tspan><tspan x="3466" dy="15">Definitions()</tspan><tspan x="3466" dy="15">+ enablePrefixWildcardQuery()</tspan><tspan x="3466" dy="15">+ isPrefixWildcardQueryEnabled()</tspan><tspan x="3466" dy="15">+ enabledLucene()</tspan><tspan x="3466" dy="15">+ enableLucene()</tspan><tspan x="3466" dy="15">+ getMaxHits()</tspan><tspan x="3466" dy="15">+ setMaxHits()</tspan><tspan x="3466" dy="15">+ getDefaultOperator()</tspan><tspan x="3466" dy="15">and 36 more...</tspan><tspan x="3466" dy="15">+ getInstance()</tspan><tspan x="3466" dy="15">+ getLuceneItemFilterDefinitions()</tspan><tspan x="3466" dy="15">+ getLuceneMimeFilterDefinitions()</tspan><tspan x="3466" dy="15">+ _getSearchSettingRefId()</tspan><tspan x="3466" dy="15"># __read()</tspan></text></g>
<g id="ilLanguage"><rect class="b" x="3981" y="2308" width="179" height="330"/><path class="s" d="M3981,2333h179M3981,2358h179"/><text class="c" x="4070" y="2325">ilLanguage</text><text y="2375"><tspan x="3989">+ __construct()</tspan><tspan x="3989" dy="15">+ getLangKey()</tspan><tspan x="3989" dy="15">+ getDefaultLanguage()</tspan><tspan x="3989" dy="15">+ getTextDirection()</tspan><tspan x="3989" dy="15">+ getContentLanguage()</tspan><tspan x="3989" dy="15">+ txtlng()</tspan><tspan x="3989" dy="15">+ txt()</tspan><tspan x="3989" dy="15">+ exists()</tspan><tspan x="3989" dy="15">+ loadLanguageModule()</tspan><tspan x="3989" dy="15">+ getInstalledLanguages()</tspan><tspan x="3989" dy="15">and 7 more...</tspan><tspan x="3989" dy="15">+ _getInstalledLanguages()</tspan><tspan x="3989" dy="15">+ _lookupEntry()</tspan><tspan x="3989" dy="15">+ lookupId()</tspan><tspan x="3989" dy="15">+ getFallbackInstance()</tspan><tspan x="3989" dy="15">+ getGlobalInstance()</tspan><tspan x="3989" dy="15"># logUsage()</tspan><tspan x="3989" dy="15"># isUsageLogEnabled()</tspan></text></g>
<g id="ilTableGUI"><rect class="b" x="4380" y="2704" width="152" height="345"/><path class="s" d="M4380,2729h152M4380,2859h152"/><text class="c" x="4456" y="2721">ilTableGUI</text><text y="2746"><tspan x="4388">+ $title</tspan><tspan x="4388" dy="15">+ $order_column</tspan><tspan x="4388" dy="15">+ $order_direction</tspan><tspan x="4388" dy="15">+ $footer_style</tspan><tspan x="4388" dy="15">+ $form_name</tspan><tspan x="4388" dy="15">+ $base</tspan><tspan x="4388" dy="15"># $sort_order</tspan><tspan x="4388" dy="15"># $tpl</tspan></text><text y="2876"><tspan x="4388">+ __construct()</tspan><tspan x="4388" dy="15">+ setTemplate()</tspan><tspan x="4388" dy="15">+ getTemplateObject()</tspan><tspan x="4388" dy="15">+ setData()</tspan><tspan x="4388" dy="15">+ getData()</tspan><tspan x="4388" dy="15">+ setTitle()</tspan><tspan x="4388" dy="15">+ setHelp()</tspan><tspan x="4388" dy="15">+ setHeaderNames()</tspan><tspan x="4388" dy="15">+ getColumnCount()</tspan><tspan x="4388" dy="15">+ setHeaderVars()</tspan><tspan x="4388" dy="15">and 29 more...</tspan><tspan x="4388" dy="15">+ linkbar()</tspan></text></g>
<g id="ilTable2GUI"><rect class="b" x="3474" y="3109" width="194" height="660"/><path class="s" d="M3474,3134h194M3474,3369h194"/><text class="c" x="3571" y="3126">ilTable2GUI</text><text y="3151"><tspan x="3482">+ FILTER_NUMBER_RANGE</tspan><tspan x="3482" dy="15">+ EXPORT_EXCEL</tspan><tspan x="3482" dy="15"># $requested_tmpl_delete</tspan><tspan x="3482" dy="15"># $requested_nav_par2</tspan><tspan x="3482" dy="15"># $requested_nav_par</tspan><tspan x="3482" dy="15"># $requested_nav_par1</tspan><tspan x="3482" dy="15"># $selected_columns</tspan><tspan x="3482" dy="15"># $close_command</tspan><tspan x="3482" dy="15"># $top_anchor</tspan><tspan x="3482" dy="15"># $optional_filters</tspan><tspan x="3482" dy="15"># $ext_sort</tspan><tspan x="3482" dy="15"># $context</tspan><tspan x="3482" dy="15">and 31 more...</tspan><tspan x="3482" dy="15">- $unique_id</tspan><tspan x="3482" dy="15">- $headerHTML</tspan></text><text y="3386"><tspan x="3482">+ __construct()</tspan><tspan x="3482" dy="15">+ setOpenFormTag()</tspan><tspan x="3482" dy="15">+ getOpenFormTag()</tspan><tspan x="3482" dy="15">+ setCloseFormTag()</tspan><tspan x="3482" dy="15">+ getCloseFormTag()</tspan><tspan x="3482" dy="15">+ determineLimit()</tspan><tspan x="3482" dy="15">+ getSelectableColumns()</tspan><tspan x="3482" dy="15">+ determineSelectedColumns()</tspan><tspan x="3482" dy="15">+ isColumnSelected()</tspan><tspan x="3482" dy="15">+ getSelectedColumns()</tspan><tspan x="3482" dy="15">and 113 more...</tspan><tspan x="3482" dy="15">+ getAllCommandLimit()</tspan><tspan x="3482" dy="15"># getRequestedValues()</tspan><tspan x="3482" dy="15"># prepareOutput()</tspan><tspan x="3482" dy="15"># isFilterVisible()</tspan><tspan x="3482" dy="15"># isAdvMDFilter()</tspan><tspan x="3482" dy="15"># fillRow()</tspan><tspan x="3482" dy="15"># getFilterValue()</tspan><tspan x="3482" dy="15"># setFilterValue()</tspan><tspan x="3482" dy="15"># fillMetaExcel()</tspan><tspan x="3482" dy="15"># fillHeaderExcel()</tspan><tspan x="3482" dy="15"># fillRowExcel()</tspan><tspan x="3482" dy="15"># fillMetaCSV()</tspan><tspan x="3482" dy="15"># fillHeaderCSV()</tspan><tspan x="3482" dy="15"># fillRowCSV()</tspan><tspan x="3482" dy="15">- renderFilter()</tspan></text></g>
<g id="ilRepositoryObjectSearchResultTableGUI"><rect class="b" x="3622" y="3807" width="164" height="238"/><path class="s" d="M3622,3845h164M3622,3870h164"/><text class="c" x="3704" y="3822">ilRepositoryObjectSearch</text><text class="c" x="3704" y="3837">ResultTableGUI</text><text y="3887"><tspan x="3630">+ __construct()</tspan><tspan x="3630" dy="15">+ setSearchTerm()</tspan><tspan x="3630" dy="15">+ getSearchTerm()</tspan><tspan x="3630" dy="15">+ getSettings()</tspan><tspan x="3630" dy="15">+ setResults()</tspan><tspan x="3630" dy="15">+ getResults()</tspan><tspan x="3630" dy="15">+ init()</tspan><tspan x="3630" dy="15">+ parse()</tspan><tspan x="3630" dy="15">+ getRelevanceHTML()</tspan><tspan x="3630" dy="15"># initColumns()</tspan><tspan x="3630" dy="15"># initRowTemplate()</tspan></text></g>
<g id="ilObjWikiSearchResultTableGUI"><rect x="3604" y="4096" width="200" height="90" fill="#bfbfbf" stroke="#000" stroke-width="1.5"/><path class="s" d="M3604,4121h200M3604,4146h200"/><text class="c" x="3704" y="4113">ilObjWikiSearchResultTableGUI</text><text y="4163"><tspan x="3612">+ parse()</tspan><tspan x="3612" dy="15"># fillRow()</tspan></text></g>
</svg>
